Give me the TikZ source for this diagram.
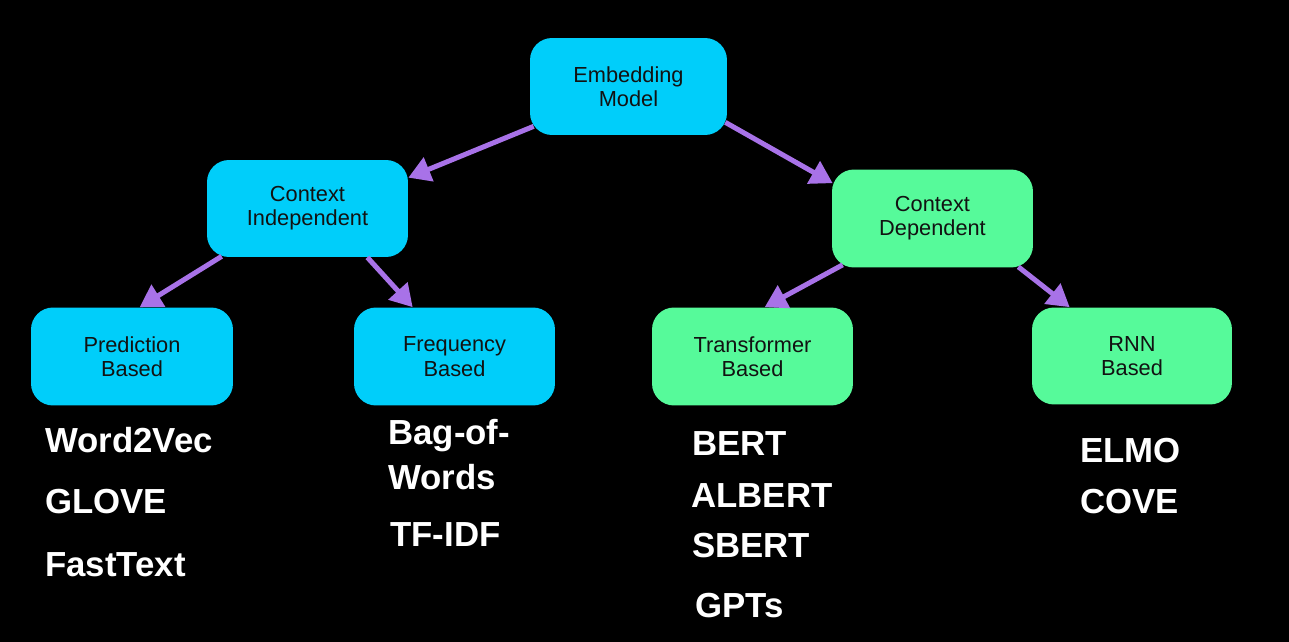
\documentclass[tikz,border=0pt]{standalone}
\usepackage{fontspec}
\setmainfont{Liberation Sans}
\usetikzlibrary{arrows.meta}
\usetikzlibrary{calc}
\definecolor{boxcyan}{RGB}{0,206,250}
\definecolor{boxgreen}{RGB}{86,250,154}
\definecolor{arrpurple}{RGB}{168,114,232}
\definecolor{boxtext}{RGB}{18,18,18}

\begin{document}
\begin{tikzpicture}[x=0.02cm,y=-0.02cm,
	model/.style={rounded corners=0.44cm,inner sep=0pt,align=center,text=boxtext,minimum width=4.02cm,minimum height=1.96cm,font=\fontsize{12.4}{13.8}\selectfont},
	indep/.style={model,fill=boxcyan},
	dep/.style={model,fill=boxgreen},
	branch/.style={line width=0.1cm,arrpurple,-{Triangle[length=0.44cm,width=0.5cm]}},
	example/.style={text=white,inner sep=0pt,anchor=base west,font=\fontsize{19.8}{25.5}\selectfont\bfseries}]
	\fill[black] (0,0) rectangle (1289,642);
	
	% model boxes
	\node[indep,minimum width=3.94cm,minimum height=1.94cm] (emb) at (628.5,86.5) {Embedding\\Model};
	\node[indep,minimum height=1.94cm] (ci) at (307.5,208.5) {Context\\Independent};
	\node[dep] (cd) at (932.5,218.5) {Context\\Dependent};
	\node[indep,minimum width=4.04cm] (pred) at (132,356.5) {Prediction\\Based};
	\node[indep] (freq) at (454.5,356.5) {Frequency\\Based};
	\node[dep] (trans) at (752.5,356.5) {Transformer\\Based};
	\node[dep,minimum width=4.0cm,minimum height=1.94cm] (rnn) at (1132,356) {RNN\\Based};
	
	% arrows
	\draw[branch] ($(emb.south west)+(4,-9)$) -- ($(ci.north east)+(0,18)$);
	\draw[branch] ($(emb.south east)+(-2,-13)$) -- ($(cd.north west)+(1,14)$);
	\draw[branch] ($(ci.south west)+(15,-1)$) -- ($(pred.north west)+(109,0)$);
	\draw[branch] ($(ci.south east)+(-41,0)$) -- ($(freq.north west)+(59,0)$);
	\draw[branch] ($(cd.south west)+(11,-3)$) -- ($(trans.north west)+(113,0)$);
	\draw[branch] ($(cd.south east)+(-15,-1)$) -- ($(rnn.north west)+(38,0)$);
	
	% examples
	\node[example] (w2v) at (45,452) {Word2Vec};
	\node[example] (glove) at (45,513) {GLOVE};
	\node[example] (fasttext) at (45,576) {FastText};
	\node[example,anchor=north west,align=left] (bow) at (388,419) {Bag-of-\\Words};
	\node[example] (tfidf) at (390,546) {TF-IDF};
	\node[example] (bert) at (692,455) {BERT};
	\node[example] (albert) at (691,507) {ALBERT};
	\node[example] (sbert) at (692,557) {SBERT};
	\node[example] (gpts) at (695,617) {GPTs};
	\node[example] (elmo) at (1080,462) {ELMO};
	\node[example] (cove) at (1080,513) {COVE};
\end{tikzpicture}
\end{document}
